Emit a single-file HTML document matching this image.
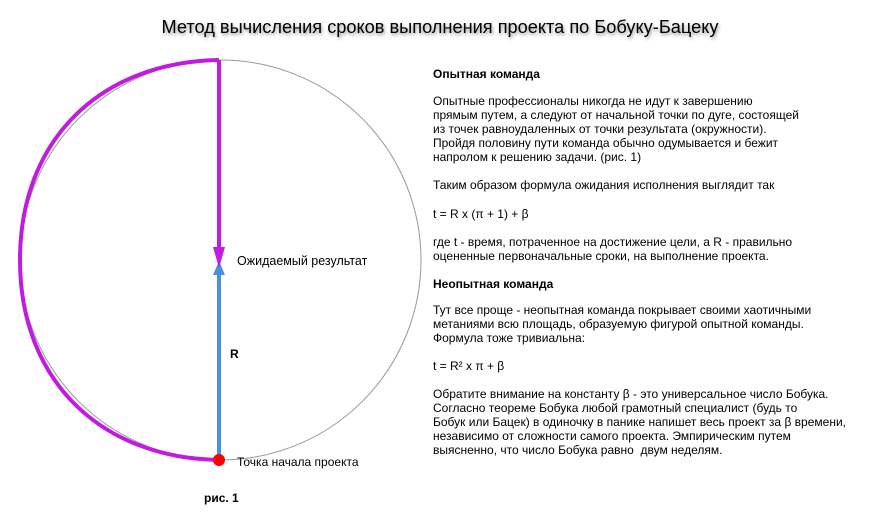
<!DOCTYPE html>
<html><head><meta charset="utf-8"><style>
body{margin:0;width:880px;height:520px;background:#fff;font-family:"Liberation Sans",Arial,sans-serif;position:relative;overflow:hidden}
.t{position:absolute;font-size:12px;line-height:14px;color:#000;white-space:nowrap}
.b{font-weight:bold}
h1{position:absolute;left:0;width:880px;top:17px;margin:0;text-align:center;font-weight:normal;font-size:18.2px;text-shadow:1px 2px 3px rgba(0,0,0,.45)}
</style></head><body>
<h1>Метод вычисления сроков выполнения проекта по Бобуку-Бацеку</h1>
<svg width="880" height="520" style="position:absolute;left:0;top:0">
<ellipse cx="220.5" cy="260" rx="200.5" ry="200" fill="none" stroke="#999" stroke-width="1"/>
<path d="M219 60 C 101 62 20 139 20 260 C 20 381 101 458 219 460" fill="none" stroke="#c21be0" stroke-width="4"/>
<line x1="219" y1="60" x2="219" y2="250" stroke="#c21be0" stroke-width="4"/>
<line x1="219" y1="460" x2="219" y2="275" stroke="#4a90e2" stroke-width="4"/>
<polygon points="213,261 225,261 219,275" fill="#4a90e2" transform="rotate(180 219 268)"/>
<polygon points="213,247 225,247 219,268" fill="#c21be0"/>
<circle cx="219" cy="460" r="6" fill="#ff0000"/>
</svg>
<div class="t" style="left:237px;top:254px;font-size:12.5px">Ожидаемый результат</div>
<div class="t b" style="left:230px;top:347px">R</div>
<div class="t" style="left:237px;top:455px">Точка начала проекта</div>
<div class="t b" style="left:204px;top:491px">рис. 1</div>
<div class="t b" style="left:433px;top:67px">Опытная команда</div>
<div class="t" style="left:433px;top:94px">Опытные профессионалы никогда не идут к завершению<br>прямым путем, а следуют от начальной точки по дуге, состоящей<br>из точек равноудаленных от точки результата (окружности).<br>Пройдя половину пути команда обычно одумывается и бежит<br>напролом к решению задачи. (рис. 1)</div>
<div class="t" style="left:433px;top:178px">Таким образом формула ожидания исполнения выглядит так</div>
<div class="t" style="left:433px;top:207px">t = R x (π + 1) + β</div>
<div class="t" style="left:433px;top:235px">где t - время, потраченное на достижение цели, а R - правильно<br>оцененные первоначальные сроки, на выполнение проекта.</div>
<div class="t b" style="left:433px;top:277px">Неопытная команда</div>
<div class="t" style="left:433px;top:303px">Тут все проще - неопытная команда покрывает своими хаотичными<br>метаниями всю площадь, образуемую фигурой опытной команды.<br>Формула тоже тривиальна:</div>
<div class="t" style="left:433px;top:359px">t = R² x π + β</div>
<div class="t" style="left:433px;top:387px">Обратите внимание на константу β - это универсальное число Бобука.<br>Согласно теореме Бобука любой грамотный специалист (будь то<br>Бобук или Бацек) в одиночку в панике напишет весь проект за β времени,<br>независимо от сложности самого проекта. Эмпирическим путем<br>выясненно, что число Бобука равно &nbsp;двум неделям.</div>
</body></html>
